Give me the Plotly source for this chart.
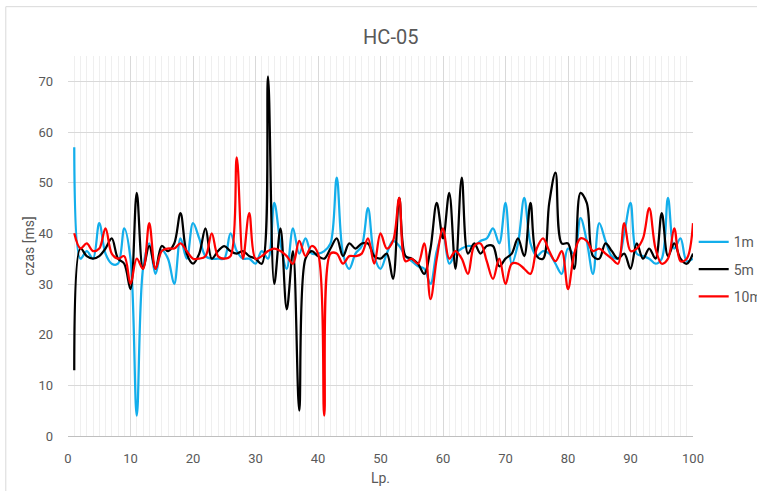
import plotly.graph_objects as go

lp = list(range(1, 101))

s_1m = [57, 35, 36.5, 35, 42, 36, 34, 34, 41, 35,
        4, 33, 38, 32, 36.7, 35, 30, 39, 35, 42,
        39, 35.5, 35, 35, 35, 40, 36.5, 35, 35, 34,
        36.5, 35, 46, 38, 33, 41, 36, 39, 36, 36,
        36.5, 38, 51, 36, 33, 36, 37.5, 45, 35.5, 33,
        36, 38.5, 37.5, 35.5, 34.5, 33.5, 33, 30, 36.5, 40,
        34, 36, 37, 37.5, 37.5, 38.5, 39, 41, 38, 46,
        34, 38, 47, 38, 35.5, 36.5, 36, 34, 32, 37,
        36, 43, 38.5, 32, 42, 38.5, 35.5, 35, 40, 46,
        36, 35.5, 35, 34, 35, 47, 37, 39, 34.5, 35]

s_5m = [13, 37, 35.5, 35, 35.5, 37, 39, 35, 34, 29,
        48, 33, 37.5, 33, 37.5, 36.5, 38, 44, 36, 34,
        36, 41, 35, 36.5, 37.5, 36.5, 36, 36.5, 35.5, 35,
        34, 71, 30, 41, 25, 36.5, 5, 35, 36.5, 35.5,
        35, 37, 39, 35.5, 38, 37, 38, 38, 35.5, 35,
        36, 31, 47, 35.5, 35, 34, 32, 37, 46, 39,
        48, 33, 51, 36, 38, 36, 37.5, 37.5, 33.5, 35,
        36, 39, 35.5, 46, 35.5, 35, 46, 52, 38, 38,
        33, 48, 46, 35.5, 35, 38, 36.5, 35, 36, 33,
        38, 35, 37, 35, 44, 35.5, 38, 35, 34, 36]

s_10m = [40, 37, 38, 36.5, 37, 41, 36, 35, 35.5, 30,
         35, 33, 42, 33, 36.5, 37, 37, 38, 36.5, 35,
         35, 35.5, 40, 35.5, 35, 35.5, 55, 35, 44, 35,
         35.5, 36.5, 37, 36.5, 35.5, 34, 38.5, 35.5, 37.5, 36,
         4, 36, 36, 34, 35.5, 35.5, 36, 39, 34, 40,
         37, 38.5, 47, 34.5, 35, 34, 38, 27, 35, 41,
         35, 36.5, 35, 32, 37.5, 38, 34.5, 31, 35, 30,
         34, 34, 33, 32, 37, 39, 36.5, 34.5, 36.5, 29,
         36, 39, 38.5, 36.5, 37, 36, 35, 34, 42, 36.5,
         37, 39, 45, 37, 34, 35, 41, 34.5, 35, 42]

names = ["1m", "5m", "10m"]
colors = ["#13AEEB", "#000000", "#FF0000"]
series = [s_1m, s_5m, s_10m]

FONT = "Roboto, Arial, sans-serif"

fig = go.Figure()
for n, c, s in zip(names, colors, series):
    fig.add_trace(go.Scatter(
        x=lp, y=s, name=n, mode="lines",
        line=dict(color=c, width=2.25, shape="spline", smoothing=1),
        legendgroup=n,
    ))

L, R = 68.2, 693.3
T, B = 56.3, 436
W, H = 757, 491

def px2paper(px):
    return (px - L) / (R - L)

def py2paper(py):
    return (B - py) / (B - T)

fig.update_layout(
    width=W, height=H,
    margin=dict(l=68, r=W - 693, t=56, b=H - 436, autoexpand=False),
    paper_bgcolor="white", plot_bgcolor="white",
    title=dict(text="HC-05", xref="paper", x=px2paper(391), xanchor="center",
               yref="container", y=1 - 37 / H, yanchor="middle",
               font=dict(family=FONT, size=20, color="#595959")),
    font=dict(family=FONT, size=13, color="#595959"),
    showlegend=True,
    legend=dict(x=px2paper(694), xanchor="left", y=py2paper(269.5), yanchor="middle",
                font=dict(family=FONT, size=14, color="#595959"),
                tracegroupgap=6, bgcolor="rgba(0,0,0,0)", itemwidth=30),
    xaxis=dict(range=[0, 100], dtick=10, tick0=0, showgrid=True, gridcolor="#D9D9D9",
               gridwidth=1, zeroline=False, showline=True, linecolor="#BFBFBF",
               ticks="", ticklabelstandoff=10,
               tickfont=dict(family=FONT, size=13, color="#595959"),
               minor=dict(dtick=1, showgrid=True, gridcolor="#EFEFEF", gridwidth=1),
               title=dict(text="Lp.", font=dict(family=FONT, size=14, color="#595959"),
                          standoff=8)),
    yaxis=dict(range=[0, 75], dtick=10, tick0=0, showgrid=True, gridcolor="#D9D9D9",
               gridwidth=1, zeroline=False, showline=False,
               ticks="", ticklabelstandoff=14,
               tickfont=dict(family=FONT, size=13, color="#595959"),
               title=dict(text="czas [ms]", font=dict(family=FONT, size=14, color="#595959"),
                          standoff=0)),
    shapes=[dict(type="rect", xref="paper", yref="paper",
                 x0=px2paper(6), x1=px2paper(820),
                 y0=py2paper(540), y1=py2paper(7),
                 line=dict(color="#D9D9D9", width=1), fillcolor="rgba(0,0,0,0)",
                 layer="below")],
)

fig.write_html("out.html", config={"displayModeBar": False},
               post_script="document.body.style.margin='0';document.body.style.overflow='hidden';")
